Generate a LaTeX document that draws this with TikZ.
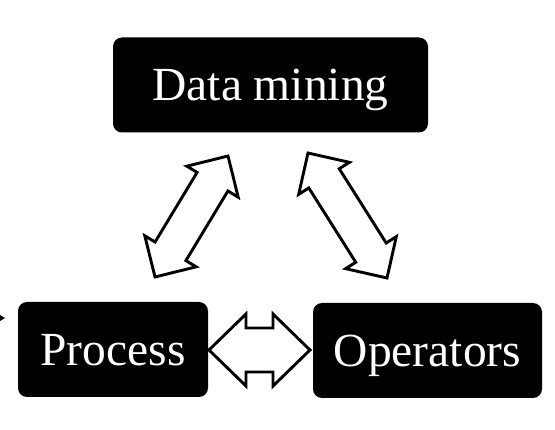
\documentclass[tikz,border=0pt]{standalone}
\usepackage{fontspec}
\setmainfont{Liberation Serif}
\usetikzlibrary{calc}
\usetikzlibrary{arrows.meta}

% block double arrow: tip, tip, shaft half width, head half width, head length
\newcommand\dblblock[5]{%
  \draw[blockarr] (#1)
    -- ($(#1)!#5!(#2)!#4!90:(#2)$)
    -- ($(#1)!#5!(#2)!#3!90:(#2)$)
    -- ($(#2)!#5!(#1)!#3!90:(#2)$)
    -- ($(#2)!#5!(#1)!#4!90:(#2)$)
    -- (#2)
    -- ($(#2)!#5!(#1)!#4!270:(#2)$)
    -- ($(#2)!#5!(#1)!#3!270:(#2)$)
    -- ($(#1)!#5!(#2)!#3!270:(#2)$)
    -- ($(#1)!#5!(#2)!#4!270:(#2)$)
    -- cycle;}

\begin{document}
\begin{tikzpicture}[x=1pt,y=1pt,
    box/.style={shape=rectangle,fill=black,rounded corners=9pt,text=white,
      inner sep=0pt,minimum height=95pt,text height=31.5pt,text depth=0pt,
      font=\fontsize{47.5}{50}\selectfont},
    blockarr/.style={draw=black,fill=white,line width=2.9pt,line join=miter}]
  \useasboundingbox (0,0) rectangle (555,429);
  \node[box,minimum width=315pt] (dm) at (270.5,344) {Data mining};
  \node[box,minimum width=190pt] (proc) at (113,79.5) {Process};
  \node[box,minimum width=229pt] (oper) at (427.5,78.5) {Operators};
  % process <-> data mining
  \coordinate (pd1) at (155,152);
  \coordinate (pd2) at (228,273);
  \dblblock{pd1}{pd2}{18pt}{30pt}{30pt}
  % data mining <-> operators
  \coordinate (do1) at (308,276);
  \coordinate (do2) at (387,151);
  \dblblock{do1}{do2}{18pt}{30pt}{30pt}
  % process <-> operators
  \coordinate (po1) at (209,79);
  \coordinate (po2) at (310,79);
  \dblblock{po1}{po2}{22pt}{36pt}{37pt}
  % incoming arrow, cut at the left edge
  \coordinate (in1) at (-20,111);
  \coordinate (in2) at (5,111);
  \draw[-{Triangle[length=7pt,width=8pt]},line width=1pt] (in1) -- (in2);
\end{tikzpicture}
\end{document}
